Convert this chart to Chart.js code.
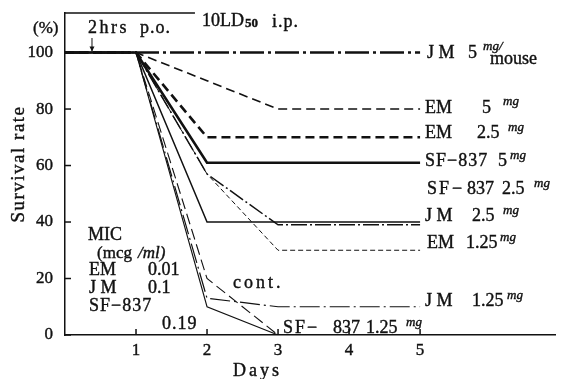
<!DOCTYPE html>
<html>
<head>
<meta charset="utf-8">
<script src="https://cdn.jsdelivr.net/npm/chart.js@4.4.1/dist/chart.umd.min.js"></script>
<style>
  html, body { margin: 0; padding: 0; background: #fff; }
</style>
</head>
<body>
<canvas id="chart" width="567" height="379"></canvas>
<script>
// Survival rate (%) after 10 LD50 i.p. challenge, drug given 2 hrs p.o.
const days = [0, 1, 2, 3, 4, 5]
const yTicks = [0, 20, 40, 60, 80, 100]
const xTicks = [1, 2, 3, 4, 5]

const jm5 = [100, 100, 100, 100, 100, 100]
const em5 = [100, 100, 90, 80, 80, 80]
const em25 = [100, 100, 70, 70, 70, 70]
const sf5 = [100, 100, 61, 61, 61, 61]
const sf25 = [100, 100, 40, 40, 40, 40]
const jm25 = [100, 100, 57, 39, 39, 39]
const em125 = [100, 100, 57, 30, 30, 30]
const jm125 = [100, 100, 13, 10, 10, 10]
const sf125 = [100, 100, 10, 0]
const cont = [100, 100, 20, 0]

const ink = '#111'
const serif = "'Liberation Serif', 'DejaVu Serif', serif"
const F = (size, style) => (style ? style + ' ' : '') + size + 'px ' + serif
const MG = F(13, 'italic')

const series = [
    { label: 'JM 5 mg/mouse', values: jm5, width: 2.5, dash: [24, 4, 3, 4] },
    { label: 'EM 5 mg', values: em5, width: 1.6, dash: [9, 5] },
    { label: 'EM 2.5 mg', values: em25, width: 2.6, dash: [9, 5] },
    { label: 'SF-837 5 mg', values: sf5, width: 2.6, dash: [] },
    { label: 'SF-837 2.5 mg', values: sf25, width: 1.5, dash: [] },
    { label: 'JM 2.5 mg', values: jm25, width: 1.5, dash: [16, 3, 2, 3] },
    { label: 'EM 1.25 mg', values: em125, width: 1, dash: [5, 3] },
    { label: 'JM 1.25 mg', values: jm125, width: 1.2, dash: [20, 4, 2, 4] },
    { label: 'SF-837 1.25 mg', values: sf125, width: 1.1, dash: [] },
    { label: 'cont.', values: cont, width: 1.1, dash: [11, 5] }
]

const toPoints = vals => vals.map((v, i) => ({ x: days[i], y: v }))

// text pieces: [text, x, baseline, font, letterSpacing]
const texts = [
    ['(%)', 33, 33, F(17)],
    ['2hrs', 88, 33, F(18), 2.5],
    ['p.o.', 140, 33, F(18), 1],
    ['10LD', 202, 26, F(18)],
    ['50', 245, 27, F(13, 'bold')],
    ['i.p.', 272, 27, F(18), 1],

    ['J M', 427, 58, F(18)], ['5', 468, 58, F(18)], ['mg/', 483, 50, MG], ['mouse', 490, 64, F(18)],
    ['EM', 425, 113, F(18)], ['5', 482, 113, F(18)], ['mg', 503, 105, MG],
    ['EM', 425, 138, F(18)], ['2.5', 477, 138, F(18)], ['mg', 508, 131, MG],
    ['SF−837', 425, 166, F(18), 1], ['5', 498, 166, F(18)], ['mg', 510, 159, MG],
    ['SF', 427, 194, F(18), 2], ['−', 452, 194, F(18)], ['837', 467, 194, F(18)], ['2.5', 502, 194, F(18)], ['mg', 534, 187, MG],
    ['J M', 425, 221, F(18)], ['2.5', 472, 221, F(18)], ['mg', 503, 214, MG],
    ['EM', 427, 248, F(18)], ['1.25', 466, 248, F(18)], ['mg', 500, 241, MG],
    ['J M', 425, 306, F(18)], ['1.25', 472, 306, F(18)], ['mg', 507, 299, MG],
    ['SF−', 283, 333, F(18), 2], ['837', 333, 333, F(18)], ['1.25', 366, 333, F(18)], ['mg', 406, 326, MG],

    ['MIC', 88, 240, F(18)],
    ['(mcg', 97, 258, F(17)], ['/ml)', 138, 258, F(17, 'italic')],
    ['EM', 89, 275, F(18)], ['0.01', 148, 275, F(18)],
    ['J M', 89, 293, F(18)], ['0.1', 148, 293, F(18)],
    ['SF−837', 89, 311, F(18), 1],
    ['0.19', 162, 329, F(18), 1],
    ['cont.', 233, 288, F(18), 3],
    ['Days', 233, 376, F(18), 3]
]

const decor = {
    id: 'decor',
    afterDraw(chart) {
        const { ctx, chartArea: a, scales: { x, y } } = chart
        const line = (x1, y1, x2, y2) => {
            ctx.beginPath()
            ctx.moveTo(x1, y1)
            ctx.lineTo(x2, y2)
            ctx.stroke()
        }
        ctx.save()
        ctx.strokeStyle = ink
        ctx.fillStyle = ink
        ctx.lineWidth = 1.5

        // inward tick marks
        yTicks.forEach(v => {
            const py = y.getPixelForValue(v)
            line(a.left, py, a.left + 6, py)
        })
        xTicks.forEach(v => {
            const px = x.getPixelForValue(v)
            line(px, a.bottom, px, a.bottom - 6)
        })

        // challenge bracket at the top
        line(a.left, a.top, x.getPixelForValue(1.83), a.top)

        // dosing arrow
        const ax = x.getPixelForValue(0.38)
        const ay = y.getPixelForValue(100)
        ctx.lineWidth = 1
        line(ax, 38, ax, ay - 1)
        ctx.beginPath()
        ctx.moveTo(ax - 2.5, ay - 6)
        ctx.lineTo(ax + 2.5, ay - 6)
        ctx.lineTo(ax, ay - 1)
        ctx.closePath()
        ctx.fill()

        // print-weight text
        ctx.textBaseline = 'alphabetic'
        ctx.textAlign = 'left'
        ctx.lineWidth = 0.4
        texts.forEach(([t, tx, ty, font, sp]) => {
            ctx.font = font
            ctx.letterSpacing = (sp || 0) + 'px'
            ctx.fillText(t, tx, ty)
            ctx.strokeText(t, tx, ty)
        })

        // y axis title
        ctx.font = F(19)
        ctx.letterSpacing = '1.5px'
        ctx.translate(19, 164)
        ctx.rotate(-Math.PI / 2)
        ctx.textAlign = 'center'
        ctx.textBaseline = 'middle'
        ctx.fillText('Survival rate', 0, 0)
        ctx.strokeText('Survival rate', 0, 0)
        ctx.restore()
    }
}

new Chart(document.getElementById('chart'), {
    type: 'line',
    data: {
        datasets: series.map(s => ({
            label: s.label,
            data: toPoints(s.values),
            borderColor: ink,
            borderWidth: s.width,
            borderDash: s.dash,
            borderCapStyle: 'butt',
            pointRadius: 0,
            tension: 0,
            fill: false
        }))
    },
    options: {
        responsive: false,
        animation: false,
        layout: { padding: { top: 13, right: 12, left: 0, bottom: 0 } },
        plugins: {
            legend: { display: false },
            tooltip: { enabled: false }
        },
        scales: {
            x: {
                type: 'linear',
                min: 0,
                max: 6.9,
                grid: { display: false, drawTicks: false },
                border: { display: true, color: ink, width: 1.5 },
                afterBuildTicks: s => { s.ticks = xTicks.map(v => ({ value: v })) },
                afterFit: s => {
                    s.height = 44
                    s.paddingLeft = 0
                    s.paddingRight = 0
                },
                ticks: { padding: 5, color: ink, textStrokeColor: ink, textStrokeWidth: 0.4, font: { family: serif, size: 17 } }
            },
            y: {
                min: 0,
                max: 114,
                grid: { display: false, drawTicks: false },
                border: { display: true, color: ink, width: 1.5 },
                afterBuildTicks: s => { s.ticks = yTicks.map(v => ({ value: v })) },
                afterFit: s => {
                    s.width = 65
                    s.paddingTop = 0
                    s.paddingBottom = 0
                },
                ticks: { padding: 12, color: ink, textStrokeColor: ink, textStrokeWidth: 0.4, font: { family: serif, size: 17 } }
            }
        }
    },
    plugins: [decor]
})
</script>
</body>
</html>
